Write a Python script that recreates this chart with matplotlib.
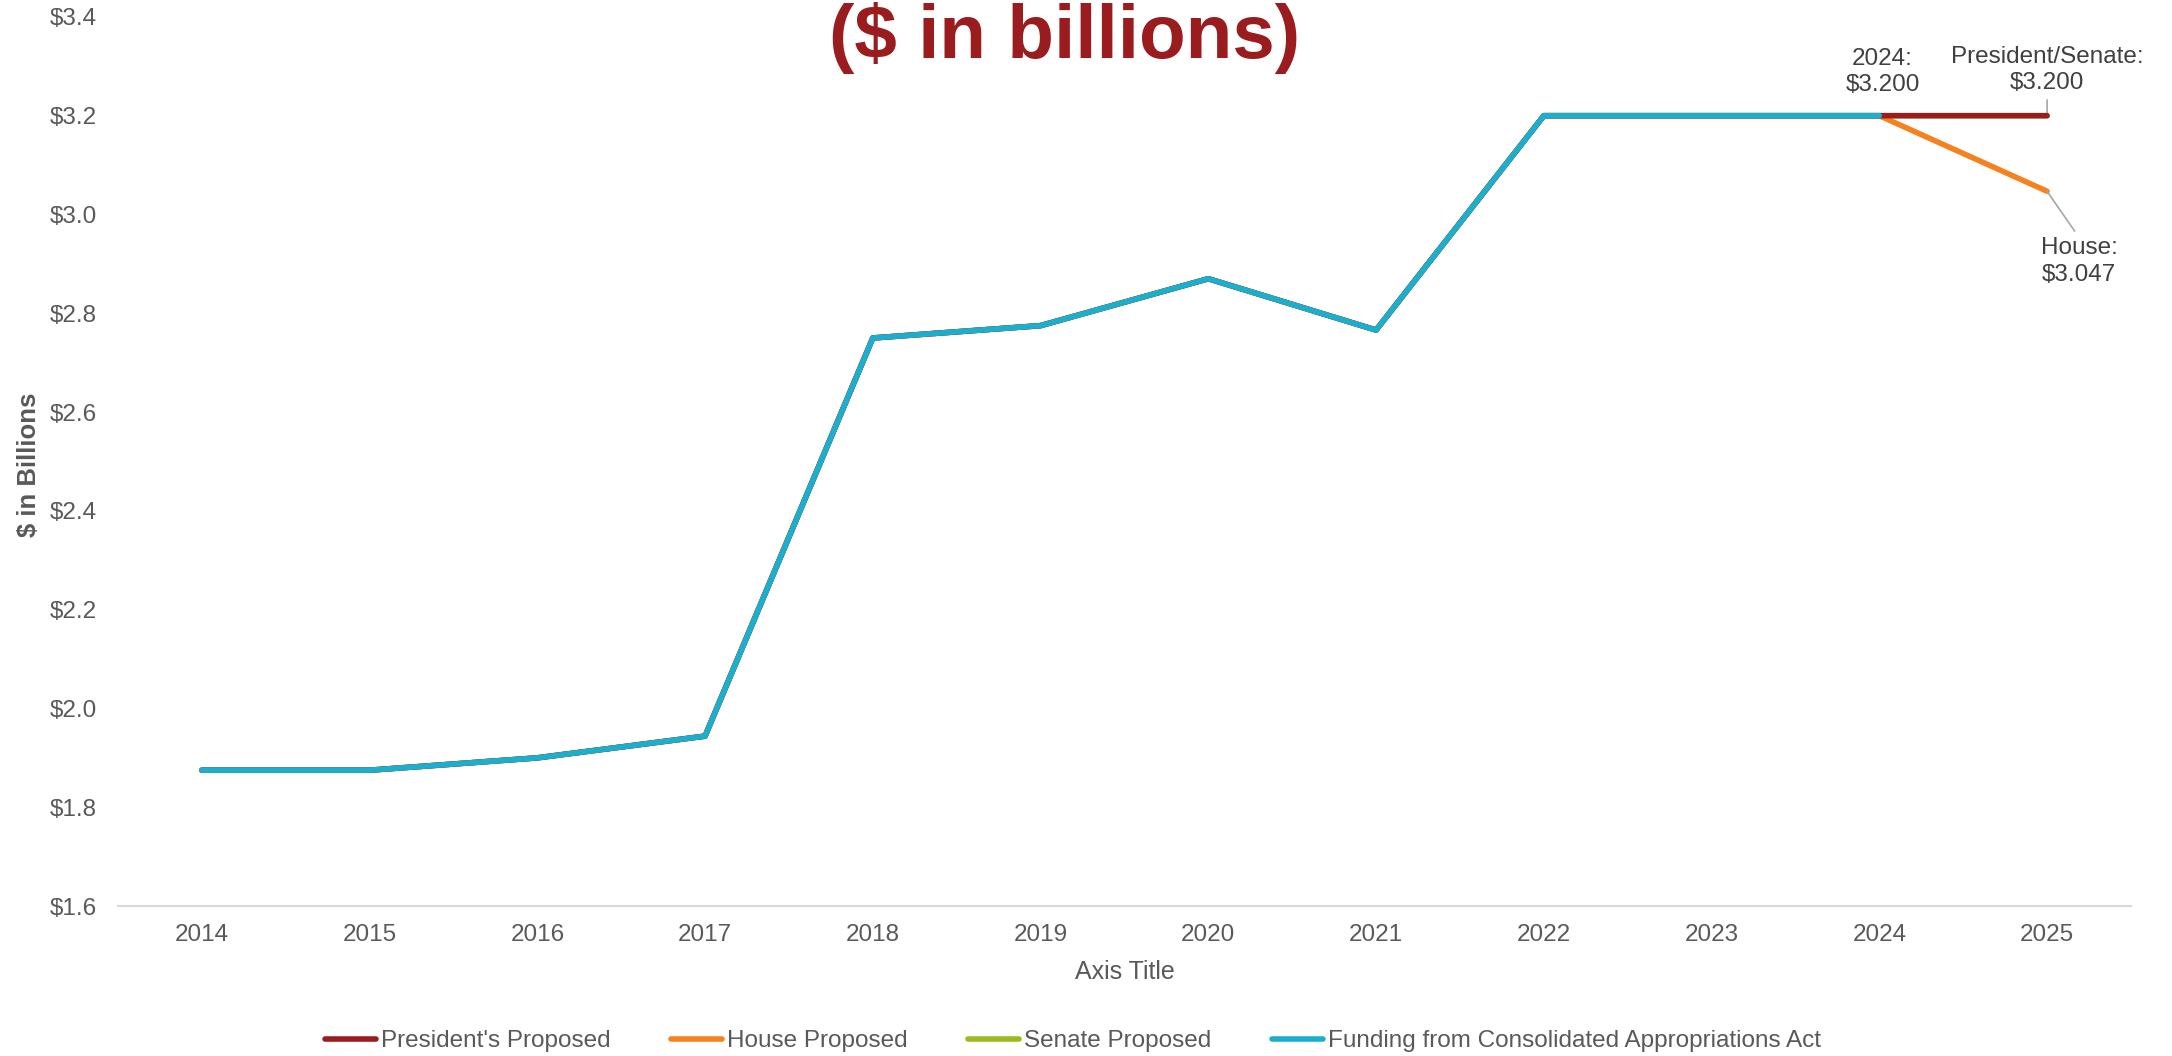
import matplotlib
matplotlib.use("Agg")
import matplotlib.pyplot as plt
from matplotlib import font_manager

years = [2014, 2015, 2016, 2017, 2018, 2019, 2020, 2021, 2022, 2023, 2024, 2025]
history = [1.875, 1.875, 1.900, 1.944, 2.750, 2.775, 2.870, 2.766, 3.200, 3.200, 3.200]
president = history + [3.200]
house = history + [3.047]
senate = history + [3.200]
funding = history
yticks = [1.6, 1.8, 2.0, 2.2, 2.4, 2.6, 2.8, 3.0, 3.2, 3.4]

names = {f.name for f in font_manager.fontManager.ttflist}
base = "Liberation Sans" if "Liberation Sans" in names else "DejaVu Sans"
narrow = "Liberation Sans Narrow" if "Liberation Sans Narrow" in names else base
plt.rcParams['font.family'] = [base, 'DejaVu Sans']

RED = "#9B1C1F"
ORANGE = "#F5821F"
GREEN = "#9BBB1A"
BLUE = "#1AAFCF"
GRAY = "#595959"
DARK = "#404040"

fig = plt.figure(figsize=(21.72, 10.56), dpi=100)
ax = fig.add_axes([0.0543, 0.142, 0.9268, 0.842])

x = list(range(len(years)))
lw = 4.0
kw = dict(linewidth=lw, solid_capstyle='round', solid_joinstyle='round')
l_sen, = ax.plot(x, senate, color=GREEN, label="Senate Proposed", **kw, zorder=2)
l_house, = ax.plot(x, house, color=ORANGE, label="House Proposed", **kw, zorder=3)
l_pres, = ax.plot(x, president, color=RED, label="President's Proposed", **kw, zorder=4)
l_fund, = ax.plot(x[:len(funding)], funding, color=BLUE,
                  label="Funding from Consolidated Appropriations Act", **kw, zorder=5)

ax.set_xlim(-0.5, len(years) - 0.5)
ax.set_ylim(1.6, 3.4)
ax.set_xticks(x)
ax.set_xticklabels([str(y) for y in years])
ax.set_yticks(yticks)
ax.set_yticklabels([f"${v:.1f}" for v in yticks])
ax.tick_params(axis='both', length=0, labelsize=17.5, labelcolor=GRAY)
ax.tick_params(axis='x', pad=13)
ax.tick_params(axis='y', pad=15)
for s in ['top', 'right', 'left']:
    ax.spines[s].set_visible(False)
ax.spines['bottom'].set_color("#D9D9D9")
ax.spines['bottom'].set_linewidth(1.5)

ax.set_xlabel("Axis Title", fontsize=18, color=GRAY, labelpad=10)
fig.text(0.0135, 0.56, "$ in Billions", rotation=90, ha='center', va='center',
         fontsize=18.5, fontweight='bold', color=GRAY, family=[narrow, 'DejaVu Sans'])

# Title (second line visible at the top)
fig.text(0.49, 0.945, "($ in billions)", ha='center', va='baseline',
         fontsize=55, fontweight='bold', color=RED)

# Annotations
ann = dict(fontsize=17.5, color=DARK, ha='center', va='center', linespacing=1.25)
ax.annotate("2024:\n$3.200", xy=(10, 3.2), xytext=(10.02, 3.288), textcoords='data', **ann)
ax.annotate("President/Senate:\n$3.200", xy=(11, 3.2), xytext=(11.0, 3.292),
            arrowprops=dict(arrowstyle='-', color="#A6A6A6", lw=1.2, relpos=(0.5, 0.0),
                            shrinkA=2, shrinkB=0), **ann)
ax.annotate("House:\n$3.047", xy=(11, 3.047), xytext=(11.19, 2.905),
            arrowprops=dict(arrowstyle='-', color="#A6A6A6", lw=1.2, relpos=(0.5, 1.0),
                            shrinkA=3, shrinkB=0), **ann)

leg = fig.legend(handles=[l_pres, l_house, l_sen, l_fund], loc='center',
                 bbox_to_anchor=(0.494, 0.014), ncol=4, frameon=False,
                 fontsize=17.5, handlelength=2.1, handletextpad=0.2,
                 columnspacing=2.5)
for t in leg.get_texts():
    t.set_color(GRAY)

fig.savefig("out.png", dpi=100)
